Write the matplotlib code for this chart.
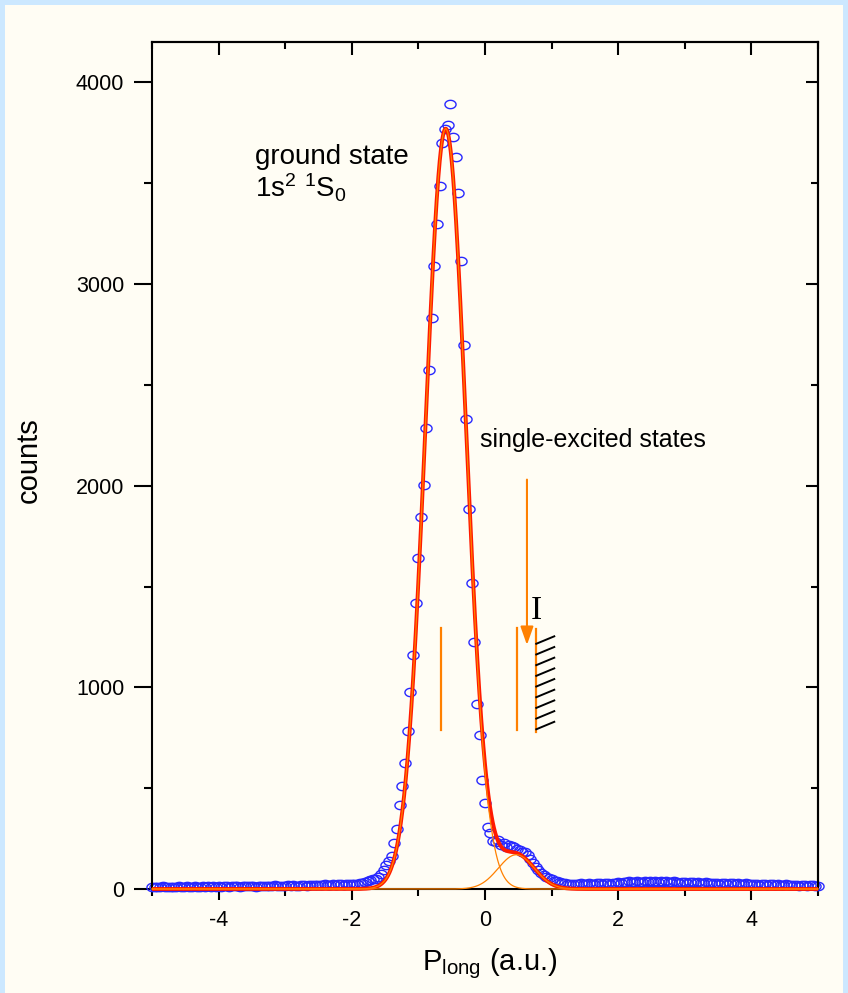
import numpy as np
import matplotlib
matplotlib.use("Agg")
import matplotlib.pyplot as plt
from matplotlib.path import Path
from matplotlib.patches import Rectangle

# ---------------- data ----------------
x_start, x_stop, n_bins = -5.0, 5.0, 251
p_long = np.linspace(x_start, x_stop, n_bins)

counts = [
    # -5.00 .. -4.04
    10, 12, 9, 11, 13, 10, 12, 11, 9, 12, 14, 11, 10, 13, 12, 11, 14, 12, 10, 13, 12, 15, 11, 13, 12,
    # -4.00 .. -3.04
    14, 12, 13, 15, 11, 14, 13, 16, 12, 14, 15, 13, 17, 14, 12, 16, 15, 13, 17, 15, 14, 18, 16, 15, 17,
    # -3.00 .. -2.04
    16, 18, 15, 19, 17, 16, 20, 18, 17, 21, 19, 18, 22, 20, 19, 23, 21, 20, 24, 22, 23, 25, 22, 24, 26,
    # -2.00 .. -1.92
    25, 27, 26,
    # -1.88 .. -1.40
    28, 32, 36, 40, 45, 48, 52, 58, 75, 92, 120, 140, 165,
    # -1.36 .. -0.52
    230, 298, 417, 510, 625, 785, 975, 1161, 1420, 1640, 1846, 2005, 2285, 2575, 2830, 3090,
    3300, 3485, 3700, 3767, 3790, 3891,
    # -0.48 .. 1.20
    3727, 3628, 3449, 3112, 2700, 2330, 1886, 1517, 1227, 916, 763, 540, 427, 309, 276, 240,
    235, 243, 218, 226, 210, 218, 212, 210, 200, 195, 185, 185, 170, 150, 130, 110, 94, 80,
    68, 60, 55, 48, 42, 38, 36, 32, 28,
    # 1.24 .. 2.00
    26, 24, 27, 23, 25, 28, 24, 26, 29, 27, 25, 30, 28, 26, 31, 29, 27, 32, 30, 34,
    # 2.04 .. 3.00
    31, 35, 33, 38, 34, 36, 40, 35, 37, 42, 36, 39, 35, 41, 37, 38, 34, 40, 36, 33, 38, 35, 32, 36, 34,
    # 3.04 .. 4.00
    31, 35, 33, 30, 34, 32, 29, 33, 31, 28, 32, 30, 27, 31, 29, 26, 30, 28, 25, 29, 27, 24, 28, 26, 23,
    # 4.04 .. 5.00
    27, 25, 22, 26, 24, 21, 25, 23, 20, 24, 22, 19, 23, 21, 18, 22, 20, 17, 21, 19, 16, 20, 18, 15, 17,
]

# Gaussian fit components: (amplitude, centre, sigma)
ground_state_fit = (3770.0, -0.59, 0.305)
excited_state_fit = (170.0, 0.47, 0.27)

# annotation markers (data coordinates)
state_lines_x = [-0.66, 0.48]
state_lines_y = (789, 1295)
threshold_x = 0.77
threshold_y = (779, 1290)
arrow_x = 0.63
arrow_y = (2030, 1210)
hatch_y0 = [1216, 1163, 1110, 1057, 1004, 951, 898, 845, 792]
hatch_dx, hatch_dy = 0.27, 37

x_ticks = [-4, -2, 0, 2, 4]
x_minor = [-5, -3, -1, 1, 3, 5]
y_ticks = [0, 1000, 2000, 3000, 4000]
y_minor = [500, 1500, 2500, 3500]

# ---------------- style ----------------
plt.rcParams['font.family'] = ['Liberation Sans', 'DejaVu Sans']
plt.rcParams['mathtext.fontset'] = 'custom'
plt.rcParams['mathtext.rm'] = 'Liberation Sans'
plt.rcParams['mathtext.it'] = 'Liberation Sans'
plt.rcParams['mathtext.sf'] = 'Liberation Sans'
plt.rcParams['mathtext.bf'] = 'Liberation Sans:bold'
plt.rcParams['axes.unicode_minus'] = False

BG = '#FFFDF4'
FRAME = '#CCE8FF'
BLUE = '#2828FF'
RED = '#FF1A00'
ORANGE = '#FF8000'

W, H = 848, 993
fig = plt.figure(figsize=(W / 100, H / 100), dpi=100)
fig.patch.set_facecolor(FRAME)
fig.patches.append(Rectangle((5 / W, 0), 1 - 10 / W, 1 - 5 / H,
                             transform=fig.transFigure, facecolor=BG,
                             edgecolor='none', zorder=-10))

ax = fig.add_axes([152 / W, 1 - 889 / H, (818 - 152) / W, (889 - 42) / H])
ax.set_facecolor(BG)
ax.set_xlim(-5, 5)
ax.set_ylim(0, 4200)

# ellipse marker
th = np.linspace(0, 2 * np.pi, 50)
ell = Path(np.column_stack([np.cos(th), 0.75 * np.sin(th)]), closed=True)

ax.plot(p_long, counts, linestyle='none', marker=ell, markersize=8.0,
        markerfacecolor='none', markeredgecolor=BLUE, markeredgewidth=1.0,
        zorder=2, clip_on=False)

xf = np.linspace(-5, 5, 2001)
def gauss(x, p):
    a, m, s = p
    return a * np.exp(-(x - m) ** 2 / (2 * s ** 2))

g1 = gauss(xf, ground_state_fit)
g2 = gauss(xf, excited_state_fit)
ax.plot(xf, g1 + g2, color=RED, lw=2.8, zorder=3, clip_on=False,
        solid_capstyle='butt')
ax.plot(xf, g1, color=ORANGE, lw=0.9, zorder=4, clip_on=False)
ax.plot(xf, g2, color=ORANGE, lw=0.9, zorder=4, clip_on=False)

# annotations
for xv in state_lines_x:
    ax.plot([xv, xv], state_lines_y, color=ORANGE, lw=1.6, zorder=4)
ax.plot([threshold_x, threshold_x], threshold_y, color=ORANGE, lw=1.6, zorder=4)
for y0 in hatch_y0:
    ax.plot([threshold_x, threshold_x + hatch_dx], [y0, y0 + hatch_dy],
            color='black', lw=1.4, zorder=4)
ax.annotate('', xy=(arrow_x, arrow_y[1]), xytext=(arrow_x, arrow_y[0]),
            arrowprops=dict(arrowstyle='-|>,head_length=0.85,head_width=0.3',
                            mutation_scale=13, color=ORANGE, lw=1.5,
                            shrinkA=0, shrinkB=0),
            zorder=4)
ax.text(0.775, 1378, 'I', family='Liberation Serif', fontsize=24,
        ha='center', va='center', zorder=5)

ax.text(-3.45, 3593, 'ground state', fontsize=20, ha='left', va='baseline')
ax.text(-3.45, 3429, r'1s$^{2}$ $^{1}$S$_{0}$', fontsize=20, ha='left',
        va='baseline')
ax.text(-0.075, 2193, 'single-excited states', fontsize=18, ha='left',
        va='baseline')

# axes / ticks
for s in ax.spines.values():
    s.set_linewidth(1.5)
    s.set_color('black')
ax.set_xticks(x_ticks)
ax.set_xticks(x_minor, minor=True)
ax.set_yticks(y_ticks)
ax.set_yticks(y_minor, minor=True)
ax.tick_params(axis='both', which='major', direction='out', width=1.5,
               labelsize=15.5, pad=7)
ax.tick_params(axis='x', which='major', length=8)
ax.tick_params(axis='x', which='minor', direction='out', length=5, width=1.5)
ax.tick_params(axis='y', which='major', length=13, pad=7)
ax.tick_params(axis='y', which='minor', direction='out', length=6, width=1.5)

secx = ax.secondary_xaxis('top')
secx.set_xticks(x_ticks)
secx.set_xticks(x_minor, minor=True)
secx.tick_params(which='major', direction='in', length=9, width=1.5,
                 labeltop=False)
secx.tick_params(which='minor', direction='in', length=5, width=1.5)
secx.spines['top'].set_linewidth(1.5)

secy = ax.secondary_yaxis('right')
secy.set_yticks(y_ticks)
secy.set_yticks(y_minor, minor=True)
secy.tick_params(which='major', direction='in', length=9, width=1.5,
                 labelright=False)
secy.tick_params(which='minor', direction='in', length=5, width=1.5)
secy.spines['right'].set_linewidth(1.5)

fig.text(29 / W, 1 - 460 / H, 'counts', rotation=90, fontsize=21,
         ha='center', va='center')
fig.text(490 / W, 1 - 970 / H, r'P$_{\mathrm{long}}$ (a.u.)', fontsize=21,
         ha='center', va='baseline')

fig.savefig('out.png', dpi=100, facecolor=fig.get_facecolor())
